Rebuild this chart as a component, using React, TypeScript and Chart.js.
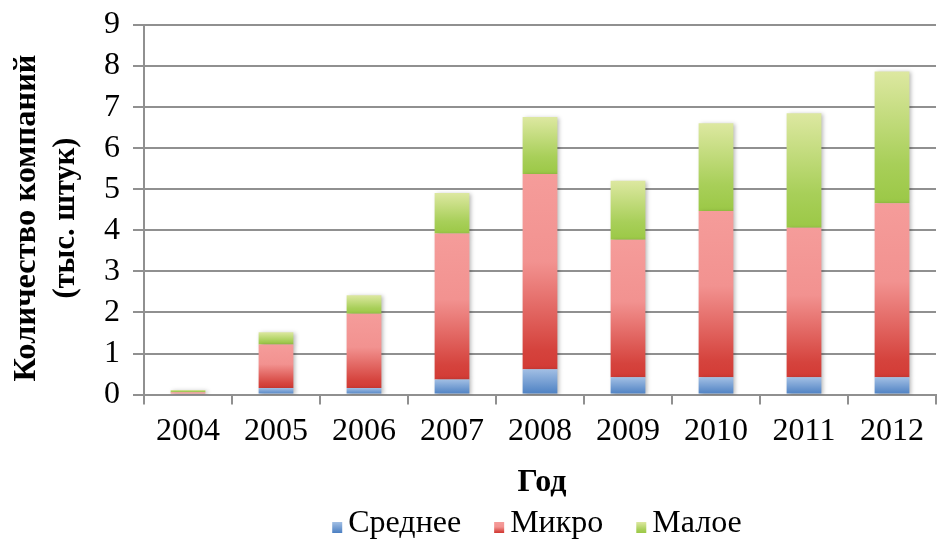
import React, { useEffect, useRef } from 'react';
import { Chart, registerables } from 'chart.js';

Chart.register(...registerables);

// Categories and series (thousands of companies)
const years = ['2004', '2005', '2006', '2007', '2008', '2009', '2010', '2011', '2012'];
const seriesNames = ['Среднее', 'Микро', 'Малое'];
const medium = [0, 0.16, 0.16, 0.37, 0.62, 0.42, 0.42, 0.42, 0.42];
const micro = [0.06, 1.06, 1.81, 3.55, 4.75, 3.35, 4.05, 3.64, 4.24];
const small = [0.05, 0.3, 0.45, 0.99, 1.39, 1.44, 2.14, 2.79, 3.21];
const yMin = 0;
const yMax = 9;
const yStep = 1;

const yTitleLines = ['Количество компаний', '(тыс. штук)'];
const xTitle = 'Год';

const FAMILY = '"Liberation Serif", "Times New Roman", serif';
const GRID = '#909090';

const series = [medium, micro, small];

// Vertical gradient stops per series (0 = top of segment, 1 = bottom)
const gradientStops: [number, string][][] = [
  [[0, '#a2bfe4'], [1, '#4b7fc2']],
  [[0, '#f59c9a'], [0.45, '#f29290'], [0.9, '#d5433d'], [1, '#d33b35']],
  [[0, '#dde8a1'], [0.7, '#a8cf59'], [1, '#9bc846']],
];
const solidColors = ['#6f99d0', '#e5615c', '#b5d56f'];

function segmentFill(dsIndex: number) {
  return (ctx: any) => {
    const chart = ctx.chart;
    if (ctx.type !== 'data') return solidColors[dsIndex];
    const yScale = chart.scales && chart.scales.y;
    if (!yScale) return solidColors[dsIndex];
    const i = ctx.dataIndex;
    let base = 0;
    for (let k = 0; k < dsIndex; k++) base += series[k][i];
    const top = base + series[dsIndex][i];
    const y0 = yScale.getPixelForValue(top);
    const y1 = yScale.getPixelForValue(base);
    if (!isFinite(y0) || !isFinite(y1) || y0 === y1) return solidColors[dsIndex];
    const g = chart.ctx.createLinearGradient(0, y0, 0, y1);
    gradientStops[dsIndex].forEach(([o, c]) => g.addColorStop(o, c));
    return g;
  };
}

// Soft shadow behind the bars
const barShadow = {
  id: 'barShadow',
  beforeDatasetsDraw(chart: any) {
    const c = chart.ctx;
    c.save();
    c.shadowColor = 'rgba(0,0,0,0.28)';
    c.shadowBlur = 4;
    c.shadowOffsetX = 2;
    c.shadowOffsetY = 1;
  },
  afterDatasetsDraw(chart: any) {
    chart.ctx.restore();
  },
};

// Axis titles and legend
const decorations = {
  id: 'decorations',
  afterDraw(chart: any) {
    const c = chart.ctx as CanvasRenderingContext2D;
    c.save();
    c.fillStyle = '#000';

    // Y axis title, two rotated lines
    c.textAlign = 'center';
    c.textBaseline = 'alphabetic';
    const yCenter = 218;
    const baselines = [35, 74];
    const sizes = [32.5, 30.5];
    yTitleLines.forEach((line, k) => {
      c.save();
      c.font = `bold ${sizes[k]}px ${FAMILY}`;
      c.translate(baselines[k], yCenter);
      c.rotate(-Math.PI / 2);
      c.fillText(line, 0, 0);
      c.restore();
    });

    // X axis title
    const cx = 542;
    c.font = `bold 32px ${FAMILY}`;
    c.fillText(xTitle, cx, 491);

    // Legend
    c.font = `32px ${FAMILY}`;
    c.textAlign = 'left';
    const box = 10;
    const gap = 6;
    const itemGap = 33;
    const widths = seriesNames.map((n) => c.measureText(n).width);
    const total = widths.reduce((s, w) => s + box + gap + w, 0) + itemGap * (seriesNames.length - 1);
    let x = 537 - total / 2;
    const boxTop = 522;
    const baseline = 532;
    seriesNames.forEach((name, k) => {
      const g = c.createLinearGradient(0, boxTop, 0, boxTop + 11);
      gradientStops[k].forEach(([o, col]) => g.addColorStop(o, col));
      c.fillStyle = g;
      c.fillRect(x, boxTop, box, 11);
      c.fillStyle = '#000';
      c.fillText(name, x + box + gap, baseline);
      x += box + gap + widths[k] + itemGap;
    });
    c.restore();
  },
};

export default function App() {
  const canvasRef = useRef<HTMLCanvasElement>(null);

  useEffect(() => {
    const canvas = canvasRef.current;
    if (!canvas) return;
    const chart = new Chart(canvas, {
      type: 'bar',
      data: {
        labels: years,
        datasets: series.map((values, k) => ({
          label: seriesNames[k],
          data: values,
          backgroundColor: segmentFill(k),
          borderWidth: 0,
          barPercentage: 0.395,
          categoryPercentage: 1,
        })),
      },
      options: {
        animation: false,
        responsive: true,
        maintainAspectRatio: false,
        devicePixelRatio: 1,
        layout: { padding: { left: 91, top: 25, right: 1, bottom: 82 } },
        plugins: {
          legend: { display: false },
          tooltip: { enabled: false },
          title: { display: false },
        },
        scales: {
          x: {
            stacked: true,
            grid: {
              display: true,
              drawOnChartArea: false,
              drawTicks: true,
              tickLength: 10,
              color: GRID,
              lineWidth: 2,
              offset: true,
            },
            border: { display: true, color: GRID, width: 2 },
            ticks: { font: { family: FAMILY, size: 32 }, color: '#000', padding: 8, maxRotation: 0, autoSkip: false },
          },
          y: {
            stacked: true,
            min: yMin,
            max: yMax,
            ticks: {
              stepSize: yStep,
              font: { family: FAMILY, size: 32, lineHeight: 0.7 },
              color: '#000',
              padding: 13,
              autoSkip: false,
            },
            grid: { color: GRID, lineWidth: 2, tickLength: 11 },
            border: { display: true, color: GRID, width: 2 },
          },
        },
      },
      plugins: [barShadow, decorations],
    });
    return () => chart.destroy();
  }, []);

  return (
    <div style={{ position: 'absolute', left: 0, top: 0, width: 937, height: 541, background: '#fff' }}>
      <canvas ref={canvasRef} />
    </div>
  );
}
